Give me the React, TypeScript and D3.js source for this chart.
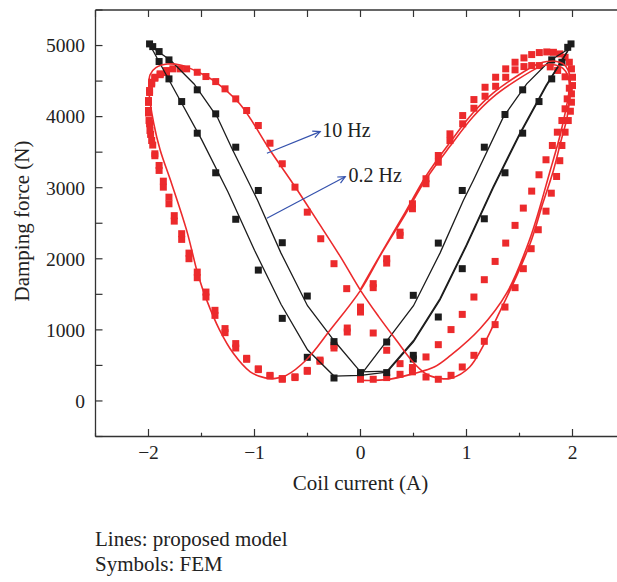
import React from "react";
import * as d3 from "d3";

// ---------- data (coil current A, damping force N) ----------
const xTicks = [-2, -1, 0, 1, 2];
const yTicks = [0, 1000, 2000, 3000, 4000, 5000];
const xLabels = ["\u22122", "\u22121", "0", "1", "2"];

// FEM symbols, 0.2 Hz (black)
const femBlack: [number, number][] = [
  [-1.99, 5023], [-1.96, 4985], [-1.9, 4915], [-1.9, 4775], [-1.807, 4798], [-1.807, 4531],
  [-1.687, 4212], [-1.54, 4377], [-1.54, 3767], [-1.366, 4039], [-1.366, 3210], [-1.177, 3570],
  [-1.177, 2556], [-0.964, 2961], [-0.964, 1841], [-0.738, 2226], [-0.738, 1162], [-0.502, 1476],
  [-0.502, 614], [-0.25, 835], [-0.25, 323], [0, 399],
  [0.247, 829], [0.247, 399], [0.498, 1486], [0.498, 642], [0.498, 590], [0.734, 2221], [0.734, 1181],
  [0.96, 2961], [0.96, 1861], [1.168, 3570], [1.168, 2563], [1.363, 4030], [1.363, 3210],
  [1.53, 4377], [1.53, 3767], [1.684, 4212], [1.804, 4798], [1.804, 4531], [1.9, 4765],
  [1.955, 4975], [1.986, 5023],
];

// FEM symbols, 10 Hz (red): initial rise
const femRedInitial: [number, number][] = [
  [0, 305], [0.12, 305], [0.247, 329], [0.373, 375], [0.49, 470], [0.618, 619], [0.734, 792],
  [0.854, 1004], [0.96, 1218], [1.07, 1462], [1.168, 1706], [1.27, 1963], [1.37, 2221],
  [1.458, 2470], [1.536, 2713], [1.615, 2952], [1.684, 3182], [1.75, 3393], [1.81, 3594],
  [1.857, 3781], [1.9, 3945], [1.93, 4110], [1.95, 4250],
];

// FEM symbols, 10 Hz (red): first decreasing pass
const femRedDown1: [number, number][] = [
  [1.97, 4400], [1.93, 4560], [1.86, 4650], [1.79, 4700], [1.687, 4718], [1.615, 4718],
  [1.542, 4704], [1.458, 4658], [1.37, 4554], [1.275, 4427], [1.175, 4287], [1.07, 4118],
  [0.964, 3899], [0.844, 3664], [0.734, 3359], [0.618, 3056], [0.49, 2704], [0.373, 2329],
  [0.247, 1940], [0.12, 1594], [0, 1251], [-0.125, 970], [-0.25, 745], [-0.382, 558],
  [-0.502, 417], [-0.618, 329], [-0.738, 305], [-0.854, 351], [-0.964, 441], [-1.074, 586],
  [-1.177, 745], [-1.278, 961], [-1.373, 1204], [-1.458, 1462], [-1.54, 1734], [-1.618, 2001],
  [-1.687, 2273], [-1.757, 2530], [-1.807, 2774], [-1.86, 3008], [-1.9, 3243], [-1.94, 3450],
  [-1.96, 3600], [-1.98, 3750], [-1.99, 3900], [-2.0, 4050], [-2.0, 4200], [-1.99, 4340],
  [-1.97, 4460], [-1.94, 4540], [-1.89, 4590], [-1.83, 4620],
];

// FEM symbols, 10 Hz (red): increasing pass and second decreasing pass
const femRedCycle2: [number, number][] = [
  [-1.97, 3664], [-1.986, 3805], [-1.995, 3945], [-2.0, 4086], [-2.0, 4226], [-1.99, 4367],
  [-1.97, 4484], [-1.94, 4554], [-1.89, 4602], [-1.83, 4648], [-1.77, 4672], [-1.7, 4672],
  [-1.64, 4672], [-1.54, 4624], [-1.458, 4564], [-1.366, 4493], [-1.278, 4391], [-1.177, 4250],
  [-1.074, 4086], [-0.964, 3875], [-0.854, 3626], [-0.738, 3337], [-0.618, 3008], [-0.502, 2656],
  [-0.375, 2282], [-0.25, 1931], [-0.13, 1580], [0, 1299], [0.12, 956], [0.247, 713],
  [0.373, 525], [0.49, 410], [0.618, 337], [0.734, 305], [0.854, 361], [0.96, 478], [1.07, 642],
  [1.168, 839], [1.27, 1074], [1.363, 1321], [1.458, 1594], [1.536, 1861], [1.61, 2142],
  [1.677, 2409], [1.75, 2670], [1.8, 2923], [1.85, 3158], [1.88, 3380], [1.9, 3594],
  [1.93, 3781], [1.96, 3945], [1.98, 4076], [1.99, 4203], [1.99, 4320], [2.0, 4437],
  [2.0, 4554], [1.99, 4672], [1.97, 4765], [1.93, 4835], [1.88, 4882], [1.82, 4905],
  [1.757, 4910], [1.687, 4901], [1.615, 4873], [1.542, 4826], [1.458, 4765], [1.37, 4672],
  [1.275, 4554], [1.175, 4413], [1.07, 4240], [0.964, 4015], [0.844, 3758], [0.734, 3453],
  [0.618, 3126], [0.49, 2774], [0.373, 2375], [0.247, 2001], [0.12, 1650], [0, 1321],
  [-0.125, 1026], [-0.25, 783], [-0.382, 575], [-0.502, 430], [-0.618, 340], [-0.738, 315],
  [-0.854, 360], [-0.964, 452], [-1.074, 600], [-1.177, 807], [-1.278, 1018], [-1.373, 1275],
  [-1.458, 1532], [-1.54, 1813], [-1.618, 2080], [-1.687, 2353], [-1.757, 2607], [-1.807, 2867],
  [-1.86, 3092], [-1.9, 3313], [-1.94, 3477],
];

// Proposed model, 10 Hz (red line)
const modelRed: [number, number][] = [
  [0, 290], [0.25, 300], [0.5, 385], [0.7, 480], [0.85, 640], [1.13, 1020], [1.38, 1520],
  [1.6, 2290], [1.79, 3243], [1.88, 3720], [1.94, 4120], [1.97, 4400], [1.955, 4580],
  [1.91, 4680], [1.84, 4725], [1.76, 4730], [1.69, 4700], [1.47, 4510], [1.25, 4275],
  [1.06, 3995], [0.84, 3575], [0.62, 3125], [0.42, 2620], [0.2, 2080], [0, 1556],
  [-0.29, 990], [-0.51, 580], [-0.7, 360], [-0.8, 318], [-0.9, 325], [-1.04, 410], [-1.2, 670],
  [-1.33, 1000], [-1.45, 1415], [-1.53, 1760], [-1.64, 2400], [-1.78, 3050], [-1.89, 3530],
  [-1.95, 3900], [-1.995, 4350], [-1.985, 4590], [-1.93, 4690], [-1.82, 4740], [-1.7, 4725],
  [-1.55, 4640], [-1.39, 4510], [-1.14, 4180], [-0.85, 3520], [-0.62, 3020], [-0.41, 2540],
  [-0.19, 2030], [0, 1556], [0.17, 1190], [0.34, 850], [0.5, 540], [0.62, 380], [0.75, 318],
  [0.85, 318], [1.03, 478], [1.32, 1275], [1.6, 2212], [1.72, 2780], [1.82, 3243], [1.89, 3650],
  [1.95, 4000], [1.98, 4460], [1.96, 4650], [1.91, 4745], [1.84, 4780], [1.76, 4775],
  [1.69, 4750], [1.47, 4565], [1.25, 4330], [1.06, 4050], [0.84, 3630], [0.62, 3170],
  [0.42, 2650], [0.2, 2090], [0, 1570],
];

// Proposed model, 0.2 Hz (black lines)
const modelBlackInitial: [number, number][] = [
  [0, 360], [0.25, 405], [0.5, 830], [0.75, 1420], [1.0, 2180], [1.25, 2990], [1.5, 3740],
  [1.75, 4420], [1.99, 5010],
];
const modelBlackDown: [number, number][] = [
  [1.99, 5010], [1.94, 4930], [1.788, 4789], [1.568, 4461], [1.347, 3992], [1.064, 3102],
  [0.97, 2820], [0.75, 2080], [0.5, 1340], [0.25, 850], [0, 360], [-0.25, 350], [-0.5, 720],
  [-0.75, 1360], [-1.0, 2120], [-1.25, 2940], [-1.5, 3680], [-1.75, 4360], [-1.98, 4990],
];
const modelBlackUp: [number, number][] = [
  [-1.98, 4990], [-1.79, 4790], [-1.57, 4460], [-1.35, 3990], [-1.215, 3560], [-0.97, 2820],
  [-0.75, 2080], [-0.5, 1340], [-0.25, 850], [0, 410], [0.25, 420], [0.5, 850], [0.75, 1440],
  [1.0, 2200], [1.25, 3010], [1.5, 3760], [1.75, 4440], [1.99, 5010],
];

// annotations: label, arrow start, arrow tip, label anchor
const annoLabels = ["10 Hz", "0.2 Hz"];
const annoFrom: [number, number][] = [[-0.883, 3485], [-0.883, 2570]];
const annoTo: [number, number][] = [[-0.38, 3789], [-0.144, 3155]];
const annoText: [number, number][] = [[-0.36, 3716], [-0.113, 3085]];

const noteLines = ["Lines: proposed model", "Symbols: FEM"];

// ---------- chart ----------
const W = 617;
const H = 582;
const RED = "#ec2a2c";
const BLACK = "#1c1c1c";
const BLUE = "#3552ad";
const FONT = "'Liberation Serif', 'Times New Roman', serif";

export default function App() {
  const x = d3.scaleLinear().domain([-2.5, 2.5]).range([95.5, 625.5]);
  const y = d3.scaleLinear().domain([-500, 5500]).range([436.5, 10]);
  const [x0, x1] = x.range();
  const [yb, yt] = y.range();

  const lineRed = d3
    .line<[number, number]>()
    .x((d) => x(d[0]))
    .y((d) => y(d[1]))
    .curve(d3.curveCatmullRom.alpha(0.5));
  const lineBlack = d3
    .line<[number, number]>()
    .x((d) => x(d[0]))
    .y((d) => y(d[1]))
    .curve(d3.curveLinear);

  const S = 7;
  const squares = (pts: [number, number][], color: string, key: string) =>
    pts.map((d, i) => (
      <rect
        key={key + i}
        x={x(d[0]) - S / 2}
        y={y(d[1]) - S / 2}
        width={S}
        height={S}
        fill={color}
      />
    ));

  const halfTicks = d3.range(-2.5, 2.51, 0.5);
  const yMinor = d3.range(-500, 5501, 500);

  const arrowHead = (from: [number, number], to: [number, number]) => {
    const fx = x(from[0]), fy = y(from[1]);
    const tx = x(to[0]), ty = y(to[1]);
    const a = Math.atan2(ty - fy, tx - fx);
    const L = 8, spread = 0.45;
    const p1 = [tx - L * Math.cos(a - spread), ty - L * Math.sin(a - spread)];
    const p2 = [tx - L * Math.cos(a + spread), ty - L * Math.sin(a + spread)];
    return `M${p1[0]},${p1[1]}L${tx},${ty}L${p2[0]},${p2[1]}`;
  };

  return (
    <svg
      width={W}
      height={H}
      viewBox={`0 0 ${W} ${H}`}
      style={{ position: "absolute", left: 0, top: 0, background: "#fff" }}
      fontFamily={FONT}
    >
      <rect x={0} y={0} width={W} height={H} fill="#fff" />

      {/* symbols */}
      <g>
        {squares(femRedInitial, RED, "ri")}
        {squares(femRedDown1, RED, "rd")}
        {squares(femRedCycle2, RED, "rc")}
        {squares(femBlack, BLACK, "b")}
      </g>

      {/* model lines */}
      <path d={lineBlack(modelBlackInitial) || ""} fill="none" stroke={BLACK} strokeWidth={1.3} />
      <path d={lineBlack(modelBlackDown) || ""} fill="none" stroke={BLACK} strokeWidth={1.3} />
      <path d={lineBlack(modelBlackUp) || ""} fill="none" stroke={BLACK} strokeWidth={1.3} />
      <path d={lineRed(modelRed) || ""} fill="none" stroke={RED} strokeWidth={1.6} />

      {/* annotations */}
      {annoLabels.map((t, i) => (
        <g key={t}>
          <line
            x1={x(annoFrom[i][0])}
            y1={y(annoFrom[i][1])}
            x2={x(annoTo[i][0])}
            y2={y(annoTo[i][1])}
            stroke={BLUE}
            strokeWidth={1.2}
          />
          <path d={arrowHead(annoFrom[i], annoTo[i])} fill="none" stroke={BLUE} strokeWidth={1.2} />
          <text x={x(annoText[i][0])} y={y(annoText[i][1])} fontSize={20} fill="#222">
            {t}
          </text>
        </g>
      ))}

      {/* frame */}
      <line x1={x0} y1={yt} x2={x1} y2={yt} stroke="#333" strokeWidth={1.3} />
      <line x1={x0} y1={yb} x2={x1} y2={yb} stroke="#333" strokeWidth={1.3} />
      <line x1={x0} y1={yt} x2={x0} y2={yb} stroke="#333" strokeWidth={1.3} />

      {/* top ticks */}
      {halfTicks.map((v) => (
        <line key={"tt" + v} x1={x(v)} x2={x(v)} y1={yt} y2={yt + 7} stroke="#333" strokeWidth={1.2} />
      ))}
      {/* bottom ticks */}
      {halfTicks.map((v) => {
        const major = Math.abs(v - Math.round(v)) < 1e-6;
        return (
          <line
            key={"bt" + v}
            x1={x(v)}
            x2={x(v)}
            y1={yb}
            y2={yb - (major ? 7.5 : 3.8)}
            stroke="#333"
            strokeWidth={1.2}
          />
        );
      })}
      {/* left ticks */}
      {yMinor.map((v) => (
        <line key={"lt" + v} x1={x0} x2={x0 + 7} y1={y(v)} y2={y(v)} stroke="#333" strokeWidth={1.2} />
      ))}

      {/* tick labels */}
      {xTicks.map((v, i) => (
        <text key={"xl" + v} x={x(v)} y={459} fontSize={19.5} textAnchor="middle" fill="#222">
          {xLabels[i]}
        </text>
      ))}
      {yTicks.map((v) => (
        <text key={"yl" + v} x={85} y={y(v) + 6.8} fontSize={19.5} textAnchor="end" fill="#222">
          {v}
        </text>
      ))}

      {/* axis titles */}
      <text x={360.5} y={490} fontSize={21} textAnchor="middle" fill="#222">
        Coil current (A)
      </text>
      <text transform="translate(29,221) rotate(-90)" fontSize={21} textAnchor="middle" fill="#222">
        Damping force (N)
      </text>

      {/* notes */}
      {noteLines.map((t, i) => (
        <text key={t} x={95} y={546 + i * 25} fontSize={21} fill="#222">
          {t}
        </text>
      ))}
    </svg>
  );
}
